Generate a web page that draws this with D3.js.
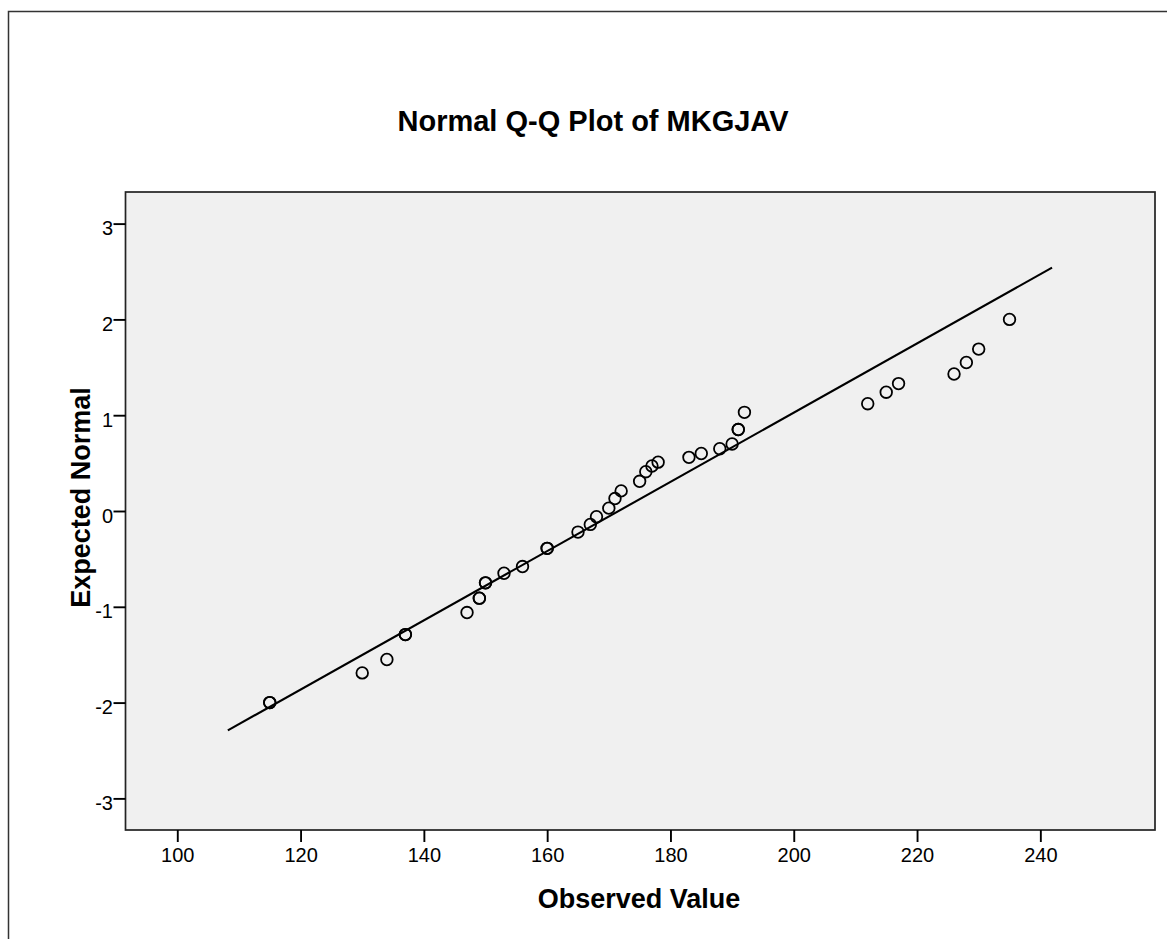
<!DOCTYPE html>
<html>
<head>
<meta charset="utf-8">
<script src="https://cdn.jsdelivr.net/npm/d3@7"></script>
<style>
  html, body { margin: 0; padding: 0; background: #fff; }
  svg { display: block; }
  text { font-family: Arial, "Liberation Sans", sans-serif; fill: #000; }
</style>
</head>
<body>
<svg id="chart" width="1167" height="939"></svg>
<script>
// Observed values (duplicates = tied cases drawn on top of each other)
const observed = [115, 115, 130, 134, 137, 137, 147, 149, 149, 150, 150, 153, 156, 160, 160,
  165, 167, 168, 170, 171, 172, 175, 176, 177, 178, 183, 185, 188, 190, 191, 191, 192,
  212, 215, 217, 226, 228, 230, 235];
// Expected normal values
const expected = [-2.00, -2.00, -1.69, -1.55, -1.29, -1.29, -1.06, -0.91, -0.91, -0.75, -0.75, -0.65, -0.58, -0.39, -0.39,
  -0.22, -0.14, -0.06, 0.03, 0.13, 0.21, 0.31, 0.41, 0.47, 0.51, 0.56, 0.60, 0.65, 0.70, 0.85, 0.85, 1.03,
  1.12, 1.24, 1.33, 1.43, 1.55, 1.69, 2.00];
// Reference line endpoints (observed, expected)
const lineX = [108.2, 241.9];
const lineY = [-2.29, 2.54];
const xTicks = [100, 120, 140, 160, 180, 200, 220, 240];
const yTicks = [-3, -2, -1, 0, 1, 2, 3];
const titleText = "Normal Q-Q Plot of MKGJAV";
const xLabel = "Observed Value";
const yLabel = "Expected Normal";

const svg = d3.select("#chart");
const W = 1167, H = 939;
const plot = {left: 125.5, top: 192, right: 1155, bottom: 830};

// outer frame
svg.append("rect").attr("x", 8.5).attr("y", 11.5).attr("width", W + 20).attr("height", H + 20)
  .attr("fill", "none").attr("stroke", "#333").attr("stroke-width", 1.5);

const x = d3.scaleLinear().domain([91.6, 258.6]).range([plot.left, plot.right]);
const y = d3.scaleLinear().domain([-3.33, 3.33]).range([plot.bottom, plot.top]);

svg.append("rect").attr("x", plot.left).attr("y", plot.top)
  .attr("width", plot.right - plot.left).attr("height", plot.bottom - plot.top)
  .attr("fill", "#f0f0f0").attr("stroke", "#222").attr("stroke-width", 1.7);

const fmt = d => String(d); // plain hyphen-minus like the original
const xAxis = svg.append("g").attr("transform", `translate(0,${plot.bottom})`)
  .call(d3.axisBottom(x).tickValues(xTicks).tickSize(12).tickPadding(6).tickFormat(fmt));
const yAxis = svg.append("g").attr("transform", `translate(${plot.left},0)`)
  .call(d3.axisLeft(y).tickValues(yTicks).tickSize(12).tickPadding(0.5).tickFormat(fmt));
[xAxis, yAxis].forEach(g => {
  g.select(".domain").remove();
  g.selectAll(".tick line").attr("stroke", "#000").attr("stroke-width", 1.9);
  g.selectAll(".tick text").attr("font-size", 20).attr("font-family", "Arial, 'Liberation Sans', sans-serif").attr("fill", "#000");
});
yAxis.selectAll(".tick text").attr("dy", "0.55em");

// reference line
svg.append("line")
  .attr("x1", x(lineX[0])).attr("y1", y(lineY[0]))
  .attr("x2", x(lineX[1])).attr("y2", y(lineY[1]))
  .attr("stroke", "#000").attr("stroke-width", 2.1);

// points
svg.append("g").selectAll("circle").data(observed.map((v, i) => [v, expected[i]]))
  .join("circle")
  .attr("cx", d => x(d[0])).attr("cy", d => y(d[1])).attr("r", 5.8)
  .attr("fill", "none").attr("stroke", "#000").attr("stroke-width", 1.8);

// titles
svg.append("text").attr("x", 593).attr("y", 131).attr("text-anchor", "middle")
  .attr("font-size", 29).attr("font-weight", "bold").text(titleText);
svg.append("text").attr("x", 639).attr("y", 908).attr("text-anchor", "middle")
  .attr("font-size", 27).attr("font-weight", "bold").text(xLabel);
svg.append("text").attr("transform", "translate(90,497.5) rotate(-90)").attr("text-anchor", "middle")
  .attr("font-size", 27).attr("font-weight", "bold").text(yLabel);
</script>
</body>
</html>
